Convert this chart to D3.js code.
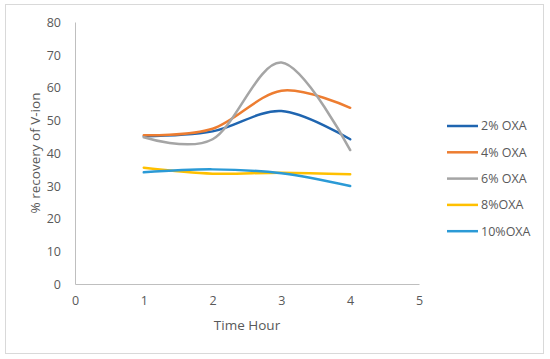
<!DOCTYPE html>
<html>
<head>
<meta charset="utf-8">
<script src="https://cdn.jsdelivr.net/npm/d3@7"></script>
<style>
body{margin:0;background:#fff;}
text{font-family:"Open Sans","Noto Sans",sans-serif;fill:#595959;}
</style>
</head>
<body>
<svg id="chart" width="550" height="359"></svg>
<script>
// data
var hours=[1,2,3,4];
var seriesNames=["2% OXA","4% OXA","6% OXA","8%OXA","10%OXA"];
var oxa2=[45.1,46.6,52.8,44.2];
var oxa4=[45.4,47.4,59.0,53.8];
var oxa6=[44.8,44.2,67.6,40.9];
var oxa8=[35.5,33.7,34.0,33.5];
var oxa10=[34.1,35.0,33.8,29.9];
var xTicks=[0,1,2,3,4,5];
var yTicks=[0,10,20,30,40,50,60,70,80];
var colors=["#1f65b0","#ed7d31","#a5a5a5","#ffc000","#2b9ad6"];

var allSeries=[oxa2,oxa4,oxa6,oxa8,oxa10];
var svg=d3.select("#chart");

// outer border
svg.append("rect")
   .attr("x",5.5).attr("y",4.5)
   .attr("width",538).attr("height",349)
   .attr("fill","none")
   .attr("stroke","#d9d9d9");

var x=d3.scaleLinear().domain([0,5]).range([75,419]);
var y=d3.scaleLinear().domain([0,80]).range([284,22]);

// axes
var xAxis=d3.axisBottom(x).tickValues(xTicks).tickFormat(d3.format("d")).tickSize(0).tickPadding(12);
var yAxis=d3.axisLeft(y).tickValues(yTicks).tickFormat(d3.format("d")).tickSize(0).tickPadding(14);

var gx=svg.append("g").attr("transform","translate(0,"+y(0)+")").call(xAxis);
var gy=svg.append("g").attr("transform","translate("+x(0)+",0)").call(yAxis);
[gx,gy].forEach(function(g){
	g.select(".domain").attr("stroke","#bfbfbf").attr("stroke-width",1);
	g.selectAll("text").style("font-size","12.5px").attr("fill","#595959");
});
gy.selectAll("text").attr("dy","0.35em");

svg.append("text")
   .attr("x",247).attr("y",330)
   .attr("text-anchor","middle")
   .style("font-size","13.5px")
   .text("Time Hour");
svg.append("text")
   .attr("transform","translate(40,153) rotate(-90)")
   .attr("text-anchor","middle")
   .style("font-size","13.5px")
   .text("% recovery of V-ion");

// smoothed lines like excel
var line=d3.line()
	.x(function(d,i){return x(hours[i]);})
	.y(function(d){return y(d);})
	.curve(d3.curveCardinal.tension(0));

allSeries.forEach(function(s,i){
	svg.append("path")
	   .attr("d",line(s))
	   .attr("fill","none")
	   .attr("stroke",colors[i])
	   .attr("stroke-width",2.5)
	   .attr("stroke-linecap","round");
});

// legend
var legend=svg.append("g");
seriesNames.forEach(function(n,i){
	var ly=126+i*26.3;
	legend.append("line")
	      .attr("x1",447).attr("x2",478)
	      .attr("y1",ly).attr("y2",ly)
	      .attr("stroke",colors[i])
	      .attr("stroke-width",2.5);
	legend.append("text")
	      .attr("x",481).attr("y",ly)
	      .attr("dy","0.35em")
	      .style("font-size","12.5px")
	      .text(n);
});
</script>
</body>
</html>
